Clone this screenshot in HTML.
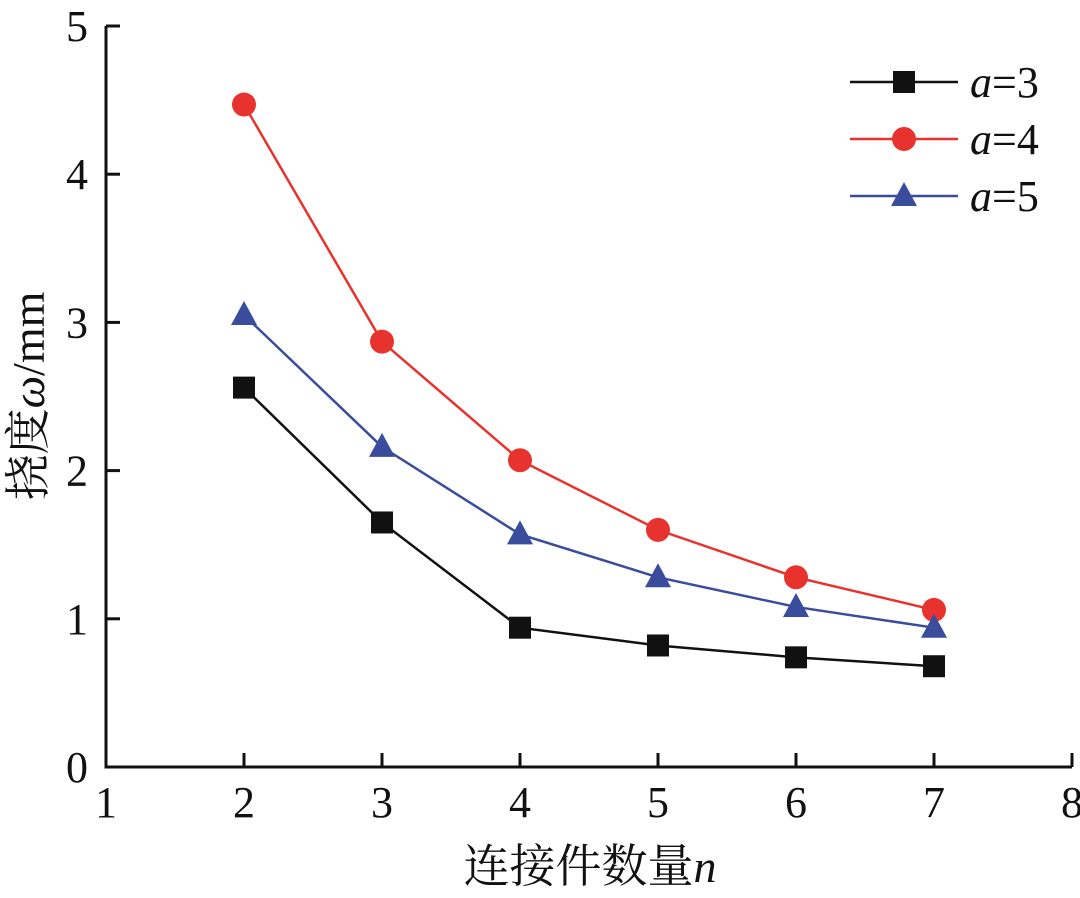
<!DOCTYPE html>
<html><head><meta charset="utf-8"><style>
body{margin:0;background:#fff}
svg{display:block}
text{font-family:"Liberation Serif","Noto Serif CJK SC",serif;fill:#111}
</style></head><body>
<svg id="chart" width="1080" height="898"></svg>
<script>
const categories=[2,3,4,5,6,7];
const seriesA3=[2.56,1.65,0.94,0.82,0.74,0.68];
const seriesA4=[4.47,2.87,2.07,1.60,1.28,1.06];
const seriesA5=[3.05,2.16,1.57,1.28,1.08,0.94];
const xTicks=[1,2,3,4,5,6,7,8];
const yTicks=[0,1,2,3,4,5];
const NS="http://www.w3.org/2000/svg";
const svg=document.getElementById('chart');
const X0=106,X1=1072,Y0=767,Y1=26;
const xs=v=>X0+(v-1)/7*(X1-X0);
const ys=v=>Y0-v/5*(Y0-Y1);
function mk(tag,attrs,parent){const e=document.createElementNS(NS,tag);for(const k in attrs)e.setAttribute(k,attrs[k]);(parent||svg).appendChild(e);return e;}
const axes=mk('g',{});


let ax=mk('polyline',{points:`${X0},${Y1} ${X0},${Y0} ${X1},${Y0}`,fill:'none',stroke:'#111','stroke-width':3},axes);


xTicks.forEach(t=>{
  const x=xs(t);
  const tk=mk('line',{x1:x,y1:Y0,x2:x,y2:Y0-14,stroke:'#111','stroke-width':3},axes);
  
  
  const l=mk('text',{x:x,y:Y0+50,'text-anchor':'middle','font-size':44},axes);
  l.textContent=t;
  
  
});
yTicks.forEach(t=>{
  const y=ys(t);
  const tk=mk('line',{x1:X0,y1:y,x2:X0+14,y2:y,stroke:'#111','stroke-width':3},axes);
  
  
  const l=mk('text',{x:X0-18,y:y+15,'text-anchor':'end','font-size':44},axes);
  l.textContent=t;
  
  
});
const xt=mk('text',{x:590,y:882,'text-anchor':'middle','font-size':46});
xt.innerHTML='连接件数量<tspan font-style="italic">n</tspan>';


const yt=mk('text',{x:0,y:0,'text-anchor':'middle','font-size':46,transform:'translate(44,396) rotate(-90)'});
yt.innerHTML='挠度<tspan font-style="italic">ω</tspan>/mm';


function marker(g,type,x,y,c){
  let m;
  if(type==='sq')m=mk('rect',{x:x-11,y:y-11,width:22,height:22,fill:c},g);
  else if(type==='ci')m=mk('circle',{cx:x,cy:y,r:12,fill:c},g);
  else m=mk('polygon',{points:`${x},${y-14} ${x-13},${y+10} ${x+13},${y+10}`,fill:c},g);
  
  
}
const series=[[seriesA3,'#111','sq','3'],[seriesA4,'#e8322d','ci','4'],[seriesA5,'#3a4c9c','tr','5']];
series.forEach((s,i)=>{
  const g=mk('g',{});
  
  
  const pl=mk('polyline',{points:categories.map((c,j)=>xs(c)+','+ys(s[0][j])).join(' '),fill:'none',stroke:s[1],'stroke-width':2.5},g);
  
  
  categories.forEach((c,j)=>marker(g,s[2],xs(c),ys(s[0][j]),s[1]));
  const ly=82+i*57;
  const lg=mk('g',{});
  
  
  mk('line',{x1:850,y1:ly,x2:958,y2:ly,stroke:s[1],'stroke-width':2.5},lg);
  marker(lg,s[2],904,ly,s[1]);
  const t=mk('text',{x:970,y:ly+15,'font-size':44},lg);
  t.innerHTML='<tspan font-style="italic">a</tspan>='+s[3];
});
</script>
</body></html>
